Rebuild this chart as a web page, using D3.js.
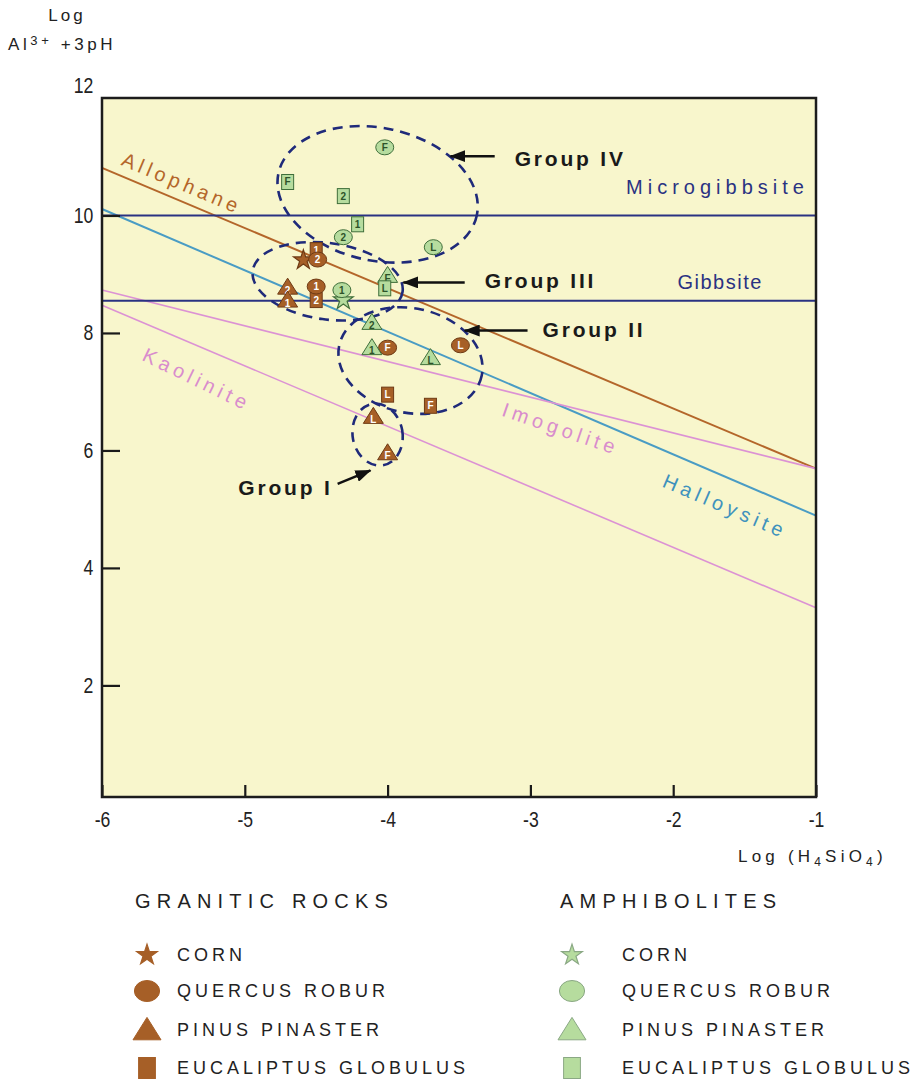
<!DOCTYPE html>
<html>
<head>
<meta charset="utf-8">
<script src="https://cdn.jsdelivr.net/npm/d3@7"></script>
<style>
body { margin: 0; background: #fff; }
text { font-family: "Liberation Sans", Arial, sans-serif; }
.tick text { font-family: "Liberation Sans", Arial, sans-serif; font-size: 22px; fill: #222; }
</style>
</head>
<body>
<svg id="chart" width="919" height="1083"></svg>
<script>
// axis ticks
const xTicks = [-6, -5, -4, -3, -2, -1];
const yTicks = [2, 4, 6, 8, 10, 12];

// stability boundaries: value at log H4SiO4 = -6 and at -1
const boundaryNames = ['Allophane', 'Halloysite', 'Imogolite', 'Kaolinite', 'Microgibbsite', 'Gibbsite'];
const boundaryStart = [10.81, 10.11, 8.73, 8.47, 10.0, 8.55];
const boundaryEnd = [5.69, 4.89, 5.69, 3.32, 10.0, 8.55];

// granitic rocks samples
const graniticSpecies = ['corn', 'eucaliptus', 'quercus', 'pinus', 'pinus', 'eucaliptus', 'quercus', 'quercus', 'quercus', 'eucaliptus', 'eucaliptus', 'pinus', 'pinus'];
const graniticLabels = ['', '1', '2', '2', '1', '2', '1', 'F', 'L', 'L', 'F', 'L', 'F'];
const graniticX = [-4.59, -4.50, -4.49, -4.70, -4.70, -4.50, -4.50, -4.00, -3.49, -4.00, -3.70, -4.10, -4.00];
const graniticY = [9.24, 9.41, 9.25, 8.78, 8.56, 8.56, 8.79, 7.75, 7.79, 6.95, 6.76, 6.58, 5.96];

// amphibolite samples
const amphSpecies = ['quercus', 'eucaliptus', 'eucaliptus', 'eucaliptus', 'quercus', 'quercus', 'pinus', 'eucaliptus', 'corn', 'quercus', 'pinus', 'pinus', 'pinus'];
const amphLabels = ['F', 'F', '2', '1', '2', 'L', 'F', 'L', '', '1', '2', '1', 'L'];
const amphX = [-4.02, -4.70, -4.31, -4.21, -4.31, -3.68, -4.00, -4.02, -4.31, -4.32, -4.11, -4.11, -3.70];
const amphY = [11.16, 10.57, 10.33, 9.85, 9.63, 9.46, 8.98, 8.76, 8.56, 8.73, 8.18, 7.75, 7.58];

// sample groups (ellipses in data units)
const groupNames = ['Group I', 'Group II', 'Group III', 'Group IV'];
const groupCx = [-4.07, -3.84, -4.42, -4.07];
const groupCy = [6.27, 7.53, 8.88, 10.36];
const groupRx = [0.175, 0.51, 0.53, 0.71];
const groupRy = [0.53, 0.89, 0.65, 1.13];
const arrowTail = [[-4.35, 5.43], [-3.02, 8.04], [-3.46, 8.86], [-3.25, 11.01]];
const arrowTip = [[-4.12, 5.66], [-3.46, 8.04], [-3.89, 8.86], [-3.56, 11.01]];

// legend
const species = ['corn', 'quercus', 'pinus', 'eucaliptus'];
const speciesNames = ['CORN', 'QUERCUS ROBUR', 'PINUS PINASTER', 'EUCALIPTUS GLOBULUS'];
const rockTypes = ['GRANITIC ROCKS', 'AMPHIBOLITES'];

const brown = { fill: '#a65f27', stroke: '#6e3a14', text: '#fff' };
const green = { fill: '#b6dc9e', stroke: '#3f6e3a', text: '#2d5229' };

const svg = d3.select('#chart');
const x = d3.scaleLinear().domain([-6, -1]).range([102, 816]);
const y = d3.scaleLinear().domain([0.1, 12]).range([797, 98]);

svg.append('rect')
    .attr('x', x(-6)).attr('y', y(12))
    .attr('width', x(-1) - x(-6)).attr('height', y(0.1) - y(12))
    .attr('fill', '#f8f6cc');

// boundary lines
const lineStyle = {
    Allophane: { color: '#b4662a', w: 2, text: '#b4662a', at: -5.9, off: -10, rot: 0, ls: 4.4 },
    Halloysite: { color: '#4a9cc4', w: 2, text: '#3f92bd', at: -1.99, off: 34, rot: 0, ls: 4.7 },
    Imogolite: { color: '#dc92d4', w: 1.6, text: '#d98ccd', at: -3.15, off: 25, rot: 5, ls: 4.6 },
    Kaolinite: { color: '#dc92d4', w: 1.6, text: '#d98ccd', at: -5.62, off: 35, rot: 3, ls: 4.6 },
    Microgibbsite: { color: '#2a3282', w: 2, text: '#2a3282', at: -2.33, off: -21, rot: 0, ls: 5 },
    Gibbsite: { color: '#2a3282', w: 2, text: '#2a3282', at: -1.97, off: -12, rot: 0, ls: 1.5 }
};

boundaryNames.forEach((name, i) => {
    const s = lineStyle[name];
    const lineY = d3.scaleLinear().domain([-6, -1]).range([boundaryStart[i], boundaryEnd[i]]);
    svg.append('line')
        .attr('x1', x(-6)).attr('y1', y(boundaryStart[i]))
        .attr('x2', x(-1)).attr('y2', y(boundaryEnd[i]))
        .attr('stroke', s.color).attr('stroke-width', s.w);
    const angle = Math.atan2(y(boundaryEnd[i]) - y(boundaryStart[i]), x(-1) - x(-6)) * 180 / Math.PI + s.rot;
    svg.append('text')
        .attr('transform', 'translate(' + x(s.at) + ',' + y(lineY(s.at)) + ') rotate(' + angle + ')')
        .attr('y', s.off)
        .attr('fill', s.text)
        .attr('font-size', 20)
        .attr('letter-spacing', s.ls)
        .text(name);
});

// group ellipses
const groupTilt = [-10, 12, 8, 12];
groupNames.forEach((n, i) => {
    svg.append('ellipse')
        .attr('transform', 'translate(' + x(groupCx[i]) + ',' + y(groupCy[i]) + ') rotate(' + groupTilt[i] + ')')
        .attr('rx', x(groupCx[i] + groupRx[i]) - x(groupCx[i]))
        .attr('ry', y(groupCy[i]) - y(groupCy[i] + groupRy[i]))
        .attr('fill', 'none')
        .attr('stroke', '#1f2a7a')
        .attr('stroke-width', 2.6)
        .attr('stroke-dasharray', '10,7');
});

// marker shapes
function drawMarker(g, kind, col, label, s) {
    if (kind === 'corn') {
        g.append('path')
            .attr('d', d3.symbol(d3.symbolStar, 120 * s * s)())
            .attr('fill', col.fill).attr('stroke', col.stroke).attr('stroke-width', 1.2);
    } else if (kind === 'quercus') {
        g.append('ellipse').attr('rx', 9 * s).attr('ry', 7.5 * s)
            .attr('fill', col.fill).attr('stroke', col.stroke).attr('stroke-width', 1);
    } else if (kind === 'pinus') {
        g.append('path')
            .attr('d', 'M0,' + (-9 * s) + 'L' + (10 * s) + ',' + (7 * s) + 'L' + (-10 * s) + ',' + (7 * s) + 'Z')
            .attr('fill', col.fill).attr('stroke', col.stroke).attr('stroke-width', 1);
    } else {
        g.append('rect').attr('x', -6 * s).attr('y', -7.5 * s).attr('width', 12 * s).attr('height', 15 * s)
            .attr('fill', col.fill).attr('stroke', col.stroke).attr('stroke-width', 1);
    }
    if (label) {
        g.append('text')
            .attr('y', kind === 'pinus' ? 3 : 0)
            .attr('text-anchor', 'middle')
            .attr('dominant-baseline', 'central')
            .attr('font-size', 10)
            .attr('font-weight', 'bold')
            .attr('fill', col.text)
            .text(label);
    }
}

graniticSpecies.forEach((k, i) => {
    const g = svg.append('g').attr('transform', 'translate(' + x(graniticX[i]) + ',' + y(graniticY[i]) + ')');
    drawMarker(g, k, brown, graniticLabels[i], 1);
});
amphSpecies.forEach((k, i) => {
    const g = svg.append('g').attr('transform', 'translate(' + x(amphX[i]) + ',' + y(amphY[i]) + ')');
    drawMarker(g, k, green, amphLabels[i], 1);
});

// group arrows and labels
svg.append('defs').append('marker')
    .attr('id', 'head')
    .attr('markerUnits', 'userSpaceOnUse')
    .attr('viewBox', '0 0 16 12')
    .attr('markerWidth', 16).attr('markerHeight', 12)
    .attr('refX', 15).attr('refY', 6)
    .attr('orient', 'auto')
    .append('path').attr('d', 'M0,0L16,6L0,12Z').attr('fill', '#111');

const labelDx = [-5, 15, 20, 20], labelDy = [4, -1, -2, 2];
groupNames.forEach((n, i) => {
    const tx = x(arrowTail[i][0]), ty = y(arrowTail[i][1]);
    svg.append('line')
        .attr('x1', tx).attr('y1', ty)
        .attr('x2', x(arrowTip[i][0])).attr('y2', y(arrowTip[i][1]))
        .attr('stroke', '#111').attr('stroke-width', 2.5)
        .attr('marker-end', 'url(#head)');
    svg.append('text')
        .attr('x', tx + labelDx[i]).attr('y', ty + labelDy[i])
        .attr('text-anchor', i === 0 ? 'end' : 'start')
        .attr('dominant-baseline', 'central')
        .attr('font-size', 21).attr('font-weight', 'bold')
        .attr('letter-spacing', 2.8)
        .attr('fill', '#1a1a1a')
        .text(n);
});

// axes
const yAxis = svg.append('g')
    .attr('transform', 'translate(' + x(-6) + ',0)')
    .call(d3.axisLeft(y).tickValues(yTicks).tickSizeInner(-18).tickSizeOuter(0).tickPadding(11).tickFormat(d => String(d)));
yAxis.select('.domain').remove();
yAxis.selectAll('.tick line').attr('stroke', '#1a1a1a').attr('stroke-width', 2.2);
yAxis.selectAll('.tick text').attr('transform', 'scale(0.8,1)');
const topTick = yAxis.selectAll('.tick').filter(d => d === 12);
topTick.select('line').remove();
topTick.select('text').attr('y', -13);

const xAxis = svg.append('g')
    .attr('transform', 'translate(0,' + y(0.1) + ')')
    .call(d3.axisBottom(x).tickValues(xTicks).tickSizeInner(-12).tickSizeOuter(0).tickPadding(14).tickFormat(d => String(d)));
xAxis.select('.domain').remove();
xAxis.selectAll('.tick line').attr('stroke', '#1a1a1a').attr('stroke-width', 2.2);
xAxis.selectAll('.tick text').attr('transform', 'scale(0.8,1)');

// frame
svg.append('rect')
    .attr('x', x(-6)).attr('y', y(12))
    .attr('width', x(-1) - x(-6)).attr('height', y(0.1) - y(12))
    .attr('fill', 'none').attr('stroke', '#1c1c1c').attr('stroke-width', 2.5);

// axis titles
svg.append('text').attr('x', 67).attr('y', 21).attr('text-anchor', 'middle')
    .attr('font-size', 17).attr('letter-spacing', 3).attr('fill', '#222').text('Log');
const yt = svg.append('text').attr('x', 8).attr('y', 50)
    .attr('font-size', 17).attr('letter-spacing', 3.6).attr('fill', '#222');
yt.append('tspan').text('Al');
yt.append('tspan').attr('font-size', 13).attr('dy', -5).text('3+');
yt.append('tspan').attr('dy', 5).text(' +3pH');

const xt = svg.append('text').attr('x', 738).attr('y', 862)
    .attr('font-size', 17).attr('letter-spacing', 4.2).attr('fill', '#222');
xt.append('tspan').text('Log (H');
xt.append('tspan').attr('font-size', 12).attr('dy', 4).text('4');
xt.append('tspan').attr('dy', -4).text('SiO');
xt.append('tspan').attr('font-size', 12).attr('dy', 4).text('4');
xt.append('tspan').attr('dy', -4).text(')');

// legend
const legendX = [135, 560], symX = [147, 572], textX = [177, 622];
const rowY = [955, 991, 1030, 1068];
rockTypes.forEach((r, c) => {
    svg.append('text').attr('x', legendX[c]).attr('y', 908)
        .attr('font-size', 20).attr('letter-spacing', 6.2).attr('fill', '#222').text(r);
    const col = c === 0 ? brown : green;
    species.forEach((k, i) => {
        const g = svg.append('g').attr('transform', 'translate(' + symX[c] + ',' + rowY[i] + ')');
        drawMarker(g, k, { fill: col.fill, stroke: c === 0 ? col.fill : '#8aa884', text: col.text }, '', k === 'corn' ? 1.05 : 1.4);
        svg.append('text').attr('x', textX[c]).attr('y', rowY[i])
            .attr('dominant-baseline', 'central')
            .attr('font-size', 18).attr('letter-spacing', 4).attr('fill', '#222')
            .text(speciesNames[i]);
    });
});
</script>
</body>
</html>
